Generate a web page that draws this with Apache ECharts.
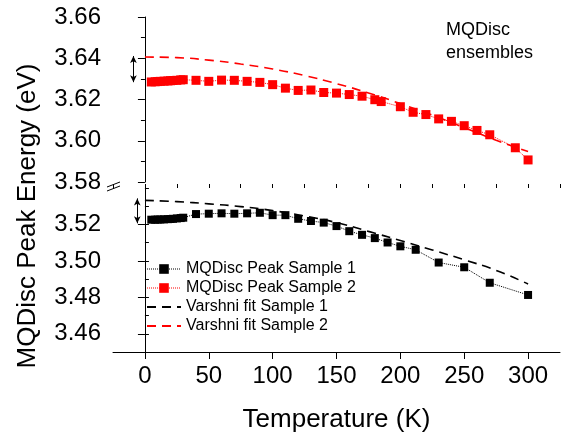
<!DOCTYPE html>
<html>
<head>
<meta charset="utf-8">
<script src="https://cdn.jsdelivr.net/npm/echarts@6/dist/echarts.min.js"></script>
<style>
  html, body { margin: 0; padding: 0; background: #fff; }
  #chart { width: 564px; height: 436px; }
</style>
</head>
<body>
<div id="chart"></div>
<script>
// ---- data ----
const temps1 = [5, 8, 10, 12, 15, 18, 20, 22, 25, 28, 30, 40, 50, 60, 70, 80, 90, 100, 110, 120, 130, 140, 150, 160, 170, 180, 190, 200, 212, 230, 250, 270, 300]
const peak1 = [3.5226, 3.5226, 3.5227, 3.5227, 3.5228, 3.5229, 3.5230, 3.5231, 3.5233, 3.5235, 3.5237, 3.5257, 3.5259, 3.5261, 3.5259, 3.5261, 3.5264, 3.5251, 3.5251, 3.5231, 3.5219, 3.5210, 3.5191, 3.5163, 3.5143, 3.5125, 3.5101, 3.5080, 3.5061, 3.4991, 3.4965, 3.4880, 3.4813]

const temps2 = [5, 8, 10, 12, 15, 18, 20, 22, 25, 28, 30, 40, 50, 60, 70, 80, 90, 100, 110, 120, 130, 140, 150, 160, 170, 180, 185, 200, 210, 220, 230, 240, 250, 260, 270, 290, 300]
const peak2 = [3.6285, 3.6286, 3.6287, 3.6288, 3.6289, 3.6290, 3.6291, 3.6292, 3.6293, 3.6295, 3.6296, 3.6293, 3.6288, 3.6294, 3.6293, 3.6288, 3.6283, 3.6272, 3.6255, 3.6244, 3.6246, 3.6234, 3.6231, 3.6224, 3.6216, 3.6199, 3.6190, 3.6165, 3.6138, 3.6127, 3.6106, 3.6094, 3.6073, 3.6050, 3.6029, 3.5966, 3.5907]

const fitTemps = [0, 25, 50, 75, 100, 125, 150, 175, 200, 225, 250, 275, 300]
const fit1 = [3.5332, 3.5325, 3.5313, 3.5298, 3.5276, 3.5246, 3.5210, 3.5162, 3.5112, 3.5060, 3.5006, 3.4948, 3.4873]
const fit2 = [3.6406, 3.6403, 3.6391, 3.6372, 3.6348, 3.6316, 3.6277, 3.6232, 3.6180, 3.6124, 3.6064, 3.6002, 3.5948]

// offset arrows (x position, from fit to data)
const arrow1 = { t: -6, from: 3.5343, to: 3.5206 }
const arrow2 = { t: -9, from: 3.6411, to: 3.6284 }

const xTicks = [0, 50, 100, 150, 200, 250, 300]
const yTicksLow = [3.46, 3.48, 3.50, 3.52]

const names = ['MQDisc Peak Sample 1', 'MQDisc Peak Sample 2', 'Varshni fit Sample 1', 'Varshni fit Sample 2']

const zip = (xs, ys) => xs.map((x, i) => [x, ys[i]])

const FONT = 'Liberation Sans, Arial, sans-serif'
const RED = '#ff0000'

const chart = echarts.init(document.getElementById('chart'))

const axisTxt = { color: '#000', fontSize: 24, fontFamily: FONT }

function arrowMark(a) {
  return {
    silent: true,
    symbol: ['arrow', 'arrow'],
    symbolSize: [5, 7],
    label: { show: false },
    lineStyle: { color: '#000', width: 1, type: 'solid' },
    data: [[{ coord: [a.t, a.from] }, { coord: [a.t, a.to] }]],
  }
}

chart.setOption({
  animation: false,
  backgroundColor: '#fff',
  grid: [
    { left: 113, right: 4, top: 17, height: 165 },
    { left: 113, right: 4, top: 188, height: 164 },
  ],
  xAxis: [
    { gridIndex: 0, type: 'value', min: -25, max: 325, show: false },
    {
      gridIndex: 1, type: 'value', min: -25, max: 325,
      axisLine: { lineStyle: { color: '#000', width: 1 } },
      axisTick: { length: 7, customValues: xTicks, lineStyle: { color: '#000' } },
      axisLabel: { ...axisTxt, margin: 12, customValues: xTicks },
      splitLine: { show: false },
      name: 'Temperature (K)',
      nameLocation: 'middle',
      nameGap: 55,
      nameTextStyle: { color: '#000', fontSize: 26, fontFamily: FONT },
    },
    {
      gridIndex: 1, type: 'value', min: -25, max: 325, interval: 25,
      axisLine: { show: false },
      axisTick: { length: 4, lineStyle: { color: '#000' } },
      axisLabel: { show: false },
      splitLine: { show: false },
    },
  ],
  yAxis: [
    {
      gridIndex: 0, type: 'value', min: 3.58, max: 3.66, interval: 0.02,
      axisLine: { show: true, lineStyle: { color: '#000', width: 1 } },
      axisTick: { show: true, length: 7, lineStyle: { color: '#000' } },
      minorTick: { show: true, splitNumber: 2, length: 4, lineStyle: { color: '#000' } },
      axisLabel: { ...axisTxt, margin: 12, formatter: v => v.toFixed(2) },
      splitLine: { show: false },
    },
    {
      gridIndex: 1, type: 'value', min: 3.45, max: 3.54,
      axisLine: { show: true, lineStyle: { color: '#000', width: 1 } },
      axisTick: { show: true, length: 7, customValues: yTicksLow, lineStyle: { color: '#000' } },
      axisLabel: { ...axisTxt, margin: 12, customValues: yTicksLow, formatter: v => v.toFixed(2) },
      splitLine: { show: false },
    },
    {
      gridIndex: 1, type: 'value', min: 3.45, max: 3.54, interval: 0.01,
      axisLine: { show: false },
      axisTick: { show: true, length: 4, lineStyle: { color: '#000' } },
      axisLabel: { show: false },
      splitLine: { show: false },
    },
  ],
  legend: {
    orient: 'vertical',
    left: 141,
    top: 256,
    itemWidth: 34,
    itemHeight: 12,
    itemGap: 3,
    textStyle: { color: '#000', fontSize: 16, fontFamily: FONT },
    data: [
      { name: names[0], lineStyle: { width: 1 } },
      { name: names[1], lineStyle: { width: 1 } },
      { name: names[2], itemStyle: { opacity: 0 } },
      { name: names[3], itemStyle: { opacity: 0 } },
    ],
  },
  graphic: [
    {
      type: 'text', left: 446, top: 19,
      style: { text: 'MQDisc\nensembles', fill: '#000', font: '18px ' + FONT, lineHeight: 23 },
    },
    {
      type: 'text', x: 28, y: 216, rotation: Math.PI / 2,
      style: { text: 'MQDisc Peak Energy (eV)', fill: '#000', font: '26px ' + FONT, align: 'center', verticalAlign: 'middle' },
    },
    // axis break marks
    { type: 'rect', shape: { x: 110, y: 182, width: 7, height: 7 }, style: { fill: '#fff' } },
    { type: 'line', shape: { x1: 107, y1: 187, x2: 120, y2: 182 }, style: { stroke: '#000', lineWidth: 1 } },
    { type: 'line', shape: { x1: 107, y1: 191, x2: 120, y2: 186 }, style: { stroke: '#000', lineWidth: 1 } },
  ],
  series: [
    {
      name: names[0], type: 'line', xAxisIndex: 1, yAxisIndex: 1,
      data: zip(temps1, peak1),
      symbol: 'rect', symbolSize: 8,
      itemStyle: { color: '#000' },
      lineStyle: { color: '#000', width: 1, type: 'dotted' },
      markLine: arrowMark(arrow1),
      z: 3,
    },
    {
      name: names[1], type: 'line', xAxisIndex: 0, yAxisIndex: 0,
      data: zip(temps2, peak2),
      symbol: 'rect', symbolSize: 9,
      itemStyle: { color: RED },
      lineStyle: { color: RED, width: 1, type: 'dotted' },
      markLine: arrowMark(arrow2),
      z: 3,
    },
    {
      name: names[2], type: 'line', xAxisIndex: 1, yAxisIndex: 1,
      data: zip(fitTemps, fit1),
      symbol: 'none', smooth: true,
      itemStyle: { color: '#000' },
      lineStyle: { color: '#000', width: 1.6, type: [9, 6] },
    },
    {
      name: names[3], type: 'line', xAxisIndex: 0, yAxisIndex: 0,
      data: zip(fitTemps, fit2),
      symbol: 'none', smooth: true,
      itemStyle: { color: RED },
      lineStyle: { color: RED, width: 1.6, type: [9, 6] },
    },
  ],
})
</script>
</body>
</html>
